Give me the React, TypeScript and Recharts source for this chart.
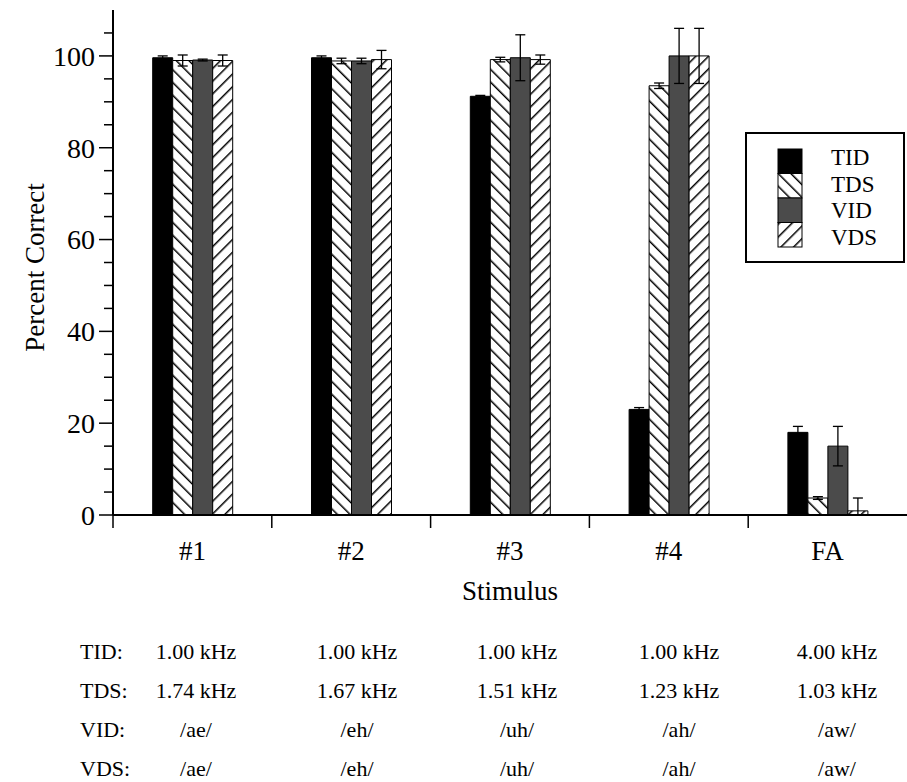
import { BarChart, Bar, XAxis, YAxis, ErrorBar, Label } from "recharts";

const stimuli = ["#1", "#2", "#3", "#4", "FA"];
const tid = [99.6, 99.6, 91.2, 23.0, 18.0];
const tidErr = [0.4, 0.4, 0.2, 0.4, 1.3];
const tds = [99.0, 98.9, 99.2, 93.5, 3.7];
const tdsErr = [1.2, 0.6, 0.5, 0.6, 0.3];
const vid = [99.1, 98.9, 99.6, 100.0, 15.0];
const vidErr = [0.2, 0.6, 5.0, 6.0, 4.3];
const vds = [99.0, 99.2, 99.2, 100.0, 0.9];
const vdsErr = [1.2, 2.0, 1.0, 6.0, 2.8];

const majorTicks = [0, 20, 40, 60, 80, 100];
const allTicks = [0, 5, 10, 15, 20, 25, 30, 35, 40, 45, 50, 55, 60, 65, 70, 75, 80, 85, 90, 95, 100, 105];

const rowLabels = ["TID:", "TDS:", "VID:", "VDS:"];
const tidFreq = ["1.00 kHz", "1.00 kHz", "1.00 kHz", "1.00 kHz", "4.00 kHz"];
const tdsFreq = ["1.74 kHz", "1.67 kHz", "1.51 kHz", "1.23 kHz", "1.03 kHz"];
const vidVowel = ["/ae/", "/eh/", "/uh/", "/ah/", "/aw/"];
const vdsVowel = ["/ae/", "/eh/", "/uh/", "/ah/", "/aw/"];

const FONT = "Liberation Serif, Tinos, DejaVu Serif, serif";
const W = 907;
const H = 782;
const AXIS_W = 113;
const BAND = (W - AXIS_W) / stimuli.length;

// error bars never go below zero
const err = (v: number, e: number) => [Math.min(v, e), e];

const data = stimuli.map((s, i) => ({
  name: s,
  TID: tid[i],
  TDS: tds[i],
  VID: vid[i],
  VDS: vds[i],
  tidE: err(tid[i], tidErr[i]),
  tdsE: err(tds[i], tdsErr[i]),
  vidE: err(vid[i], vidErr[i]),
  vdsE: err(vds[i], vdsErr[i]),
}));

const series = [
  { key: "TID", fill: "#000", err: "tidE" },
  { key: "TDS", fill: "url(#hatchBack)", err: "tdsE" },
  { key: "VID", fill: "#4b4b4b", err: "vidE" },
  { key: "VDS", fill: "url(#hatchFwd)", err: "vdsE" },
];

const tableRows = [tidFreq, tdsFreq, vidVowel, vdsVowel];
const colCenters = [196, 357, 517, 679, 837];

function YTick({ x, y, payload }: any) {
  const major = majorTicks.includes(payload.value);
  const len = major ? 14 : 9;
  return (
    <g>
      <line x1={x - len} y1={y} x2={x} y2={y} stroke="#000" strokeWidth={1.5} />
      {major && (
        <text x={x - 18} y={y} dy="0.35em" textAnchor="end" style={{ fontFamily: FONT }} fontSize={28} fill="#000">
          {payload.value}
        </text>
      )}
    </g>
  );
}

function XTick({ x, y, payload }: any) {
  const left = x - BAND / 2;
  return (
    <g>
      <line x1={left} y1={y} x2={left} y2={y + 13} stroke="#000" strokeWidth={1.5} />
      <text x={x} y={y + 36} dy="0.35em" textAnchor="middle" style={{ fontFamily: FONT }} fontSize={27} fill="#000">
        {payload.value}
      </text>
    </g>
  );
}

function LegendBox() {
  return (
    <div
      style={{
        position: "absolute",
        left: 745,
        top: 132,
        border: "2px solid #000",
        width: 156,
        height: 127,
        background: "#fff",
        fontFamily: FONT,
      }}
    >
      <svg width={30} height={100} style={{ position: "absolute", left: 30, top: 14 }}>
        {series.map((s, i) => (
          <rect key={s.key} x={1} y={1 + i * 24.5} width={24} height={24.5} fill={s.fill} stroke="#000" strokeWidth={1} />
        ))}
      </svg>
      {series.map((s, i) => (
        <div
          key={s.key}
          style={{ position: "absolute", left: 84, top: 11 + i * 26.5, fontSize: 23, lineHeight: "26px", height: 26 }}
        >
          {s.key}
        </div>
      ))}
    </div>
  );
}

export default function App() {
  return (
    <div
      style={{ position: "absolute", left: 0, top: 0, width: W, height: H, background: "#fff", fontFamily: FONT }}
    >
      <BarChart
        width={W}
        height={H}
        data={data}
        margin={{ top: 10, right: 0, bottom: 177, left: 0 }}
        barCategoryGap="25%"
        barGap={0}
      >
        <defs>
          <pattern id="hatchBack" width={9} height={9} patternUnits="userSpaceOnUse" patternTransform="rotate(-45)">
            <rect width={9} height={9} fill="#fff" />
            <line x1={0} y1={0} x2={0} y2={9} stroke="#000" strokeWidth={3} />
          </pattern>
          <pattern id="hatchFwd" width={9} height={9} patternUnits="userSpaceOnUse" patternTransform="rotate(45)">
            <rect width={9} height={9} fill="#fff" />
            <line x1={0} y1={0} x2={0} y2={9} stroke="#000" strokeWidth={3} />
          </pattern>
        </defs>
        <XAxis
          dataKey="name"
          height={90}
          axisLine={{ stroke: "#000", strokeWidth: 2 }}
          tickLine={false}
          tickSize={0}
          tickMargin={0}
          tick={<XTick />}
          interval={0}
        >
          <Label
            content={({ viewBox }: any) => (
              <text
                x={viewBox.x + viewBox.width / 2}
                y={viewBox.y + 76}
                dy="0.35em"
                textAnchor="middle"
                style={{ fontFamily: FONT }}
                fontSize={27}
                fill="#000"
              >
                Stimulus
              </text>
            )}
          />
        </XAxis>
        <YAxis
          width={AXIS_W}
          domain={[0, 110]}
          ticks={allTicks}
          interval={0}
          axisLine={{ stroke: "#000", strokeWidth: 2 }}
          tickLine={false}
          tickSize={0}
          tickMargin={0}
          tick={<YTick />}
        >
          <Label
            content={({ viewBox }: any) => {
              const cx = 35;
              const cy = viewBox.y + viewBox.height / 2 + 5;
              return (
                <text
                  x={cx}
                  y={cy}
                  transform={`rotate(-90, ${cx}, ${cy})`}
                  dy="0.35em"
                  textAnchor="middle"
                  style={{ fontFamily: FONT }}
                  fontSize={27}
                  fill="#000"
                >
                  Percent Correct
                </text>
              );
            }}
          />
        </YAxis>
        {series.map((s) => (
          <Bar key={s.key} dataKey={s.key} fill={s.fill} stroke="#000" strokeWidth={1} isAnimationActive={false}>
            <ErrorBar dataKey={s.err} width={5} stroke="#000" strokeWidth={1.3} direction="y" />
          </Bar>
        ))}
      </BarChart>
      <LegendBox />
      {rowLabels.map((lab, r) => (
        <div key={lab}>
          <div
            style={{
              position: "absolute",
              left: 80,
              top: 638 + r * 39,
              fontSize: 22,
              lineHeight: "28px",
            }}
          >
            {lab}
          </div>
          {tableRows[r].map((t, c) => (
            <div
              key={c}
              style={{
                position: "absolute",
                left: colCenters[c] - 60,
                width: 120,
                textAlign: "center",
                top: 638 + r * 39,
                fontSize: 22,
                lineHeight: "28px",
              }}
            >
              {t}
            </div>
          ))}
        </div>
      ))}
    </div>
  );
}
